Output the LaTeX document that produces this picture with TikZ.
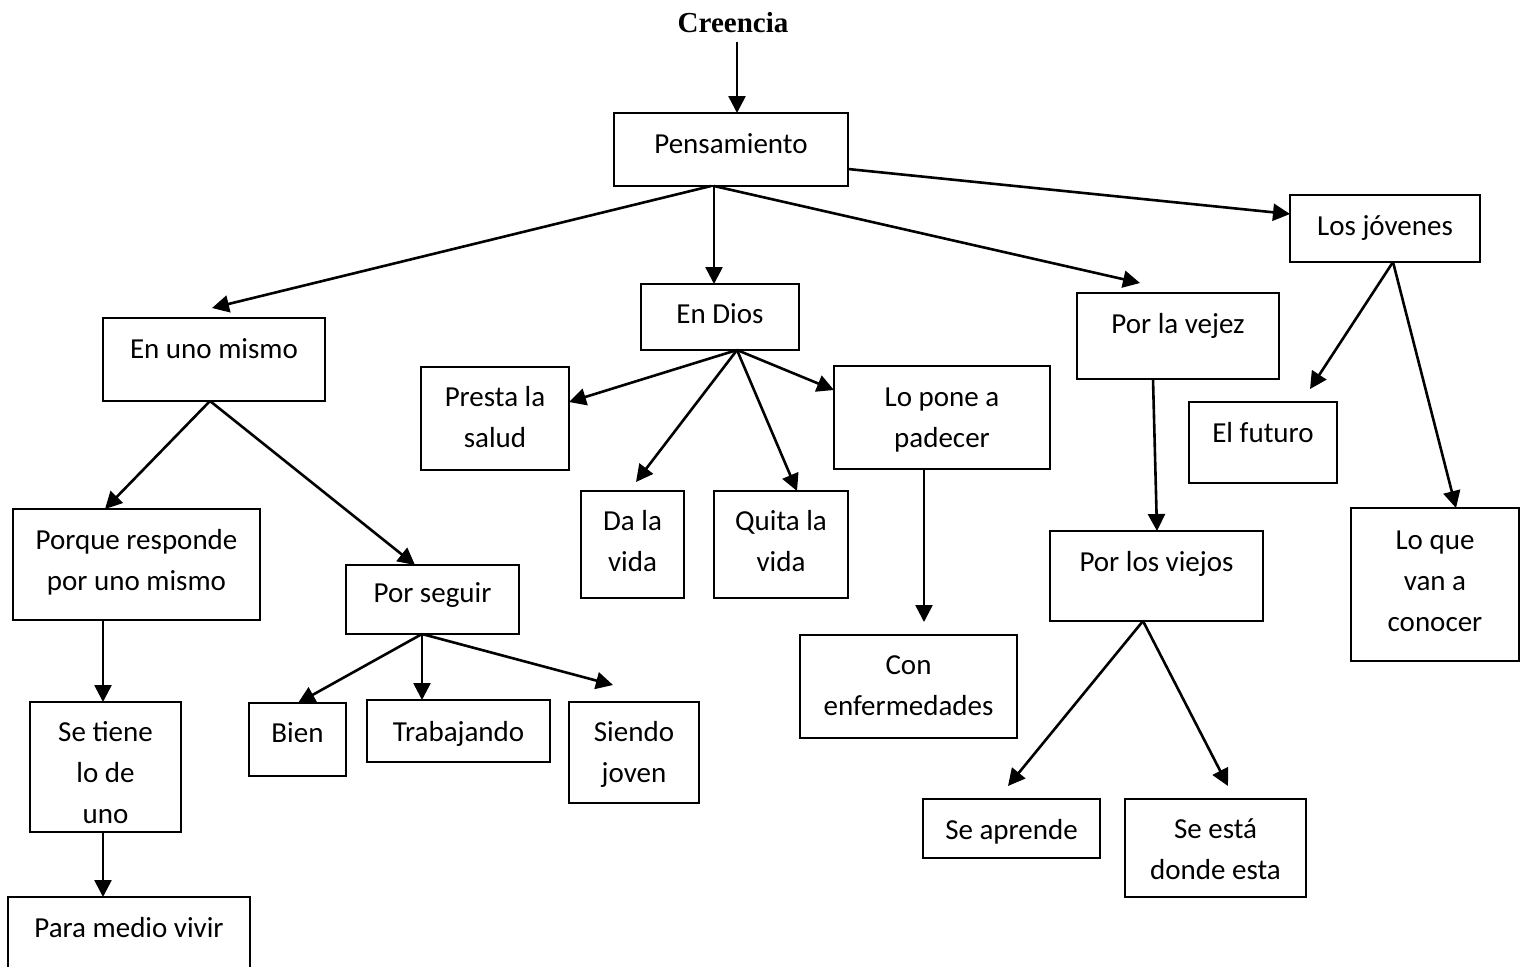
\documentclass[tikz,border=0pt]{standalone}
\usepackage{fontspec}
\setmainfont{Carlito}
\newfontfamily\titlefont{Liberation Serif}
\usetikzlibrary{arrows.meta,fit}
\tikzset{
  box/.style={draw, line width=1.15pt, inner sep=0pt, outer sep=0pt},
  txt/.style={font=\fontsize{14.5}{20.5}\selectfont, align=center, inner sep=0pt,
    execute at begin node={\strut}, execute at end node={\strut}},
  ttl/.style={font=\titlefont\bfseries\fontsize{14.5}{17}\selectfont, inner sep=0pt, inner ysep=4pt},
  arr/.style={line width=1.3pt, -{Triangle[length=8.5pt,width=8.5pt]}},
}
\begin{document}
\begin{tikzpicture}[x=0.5pt,y=-0.5pt]
\fill[white] (0,0) rectangle (1531,966);
\useasboundingbox (0,0) rectangle (1531,966);

% title
\node[ttl] (cre) at (733,23) {Creencia};

% boxes
\node[box, fit={(614,113) (848,186)}] (pens) {};
\node[txt] (tpens) at (731,145) {Pensamiento};
\node[box, fit={(1290,195) (1480,262)}] (jov) {};
\node[txt] (tjov) at (1385,227) {Los jóvenes};
\node[box, fit={(103,318) (325,401)}] (uno) {};
\node[txt] (tuno) at (214,350) {En uno mismo};
\node[box, fit={(641,284) (799,350)}] (dios) {};
\node[txt] (tdios) at (720,315) {En Dios};
\node[box, fit={(1077,293) (1279,379)}] (vej) {};
\node[txt] (tvej) at (1178,325) {Por la vejez};
\node[box, fit={(421,367) (569,470)}] (pres) {};
\node[txt] (tpres) at (495,423.5) {Presta la\\salud};
\node[box, fit={(834,366) (1050,469)}] (lopo) {};
\node[txt] (tlopo) at (942,423.5) {Lo pone a\\padecer};
\node[box, fit={(1189,402) (1337,483)}] (fut) {};
\node[txt] (tfut) at (1263,434) {El futuro};
\node[box, fit={(13,509) (260,620)}] (porq) {};
\node[txt] (tporq) at (136.5,566.5) {Porque responde\\por uno mismo};
\node[box, fit={(581,491) (684,598)}] (da) {};
\node[txt] (tda) at (632.5,547.5) {Da la\\vida};
\node[box, fit={(714,491) (848,598)}] (qui) {};
\node[txt] (tqui) at (781,547.5) {Quita la\\vida};
\node[box, fit={(1351,508) (1519,661)}] (loq) {};
\node[txt] (tloq) at (1435,587) {Lo que\\van a\\conocer};
\node[box, fit={(1050,531) (1263,621)}] (vie) {};
\node[txt] (tvie) at (1156.5,563) {Por los viejos};
\node[box, fit={(346,565) (519,634)}] (seg) {};
\node[txt] (tseg) at (432.5,594) {Por seguir};
\node[box, fit={(800,635) (1017,738)}] (con) {};
\node[txt] (tcon) at (908.5,691.5) {Con\\enfermedades};
\node[box, fit={(30,702) (181,832)}] (setn) {};
\node[txt] (tsetn) at (105.5,779) {Se tiene\\lo de\\uno};
\node[box, fit={(249,703) (346,776)}] (bien) {};
\node[txt] (tbien) at (297.5,734) {Bien};
\node[box, fit={(367,700) (550,762)}] (trab) {};
\node[txt] (ttrab) at (458.5,733) {Trabajando};
\node[box, fit={(569,702) (699,803)}] (sien) {};
\node[txt] (tsien) at (634,758.5) {Siendo\\joven};
\node[box, fit={(923,799) (1100,858)}] (apr) {};
\node[txt] (tapr) at (1011.5,831) {Se aprende};
\node[box, fit={(1125,799) (1306,897)}] (est) {};
\node[txt] (test) at (1215.5,855.5) {Se está\\donde esta};
\node[box, fit={(8,897) (250,990)}] (para) {};
\node[txt] (tpara) at (129,929) {Para medio vivir};

% free arrow ends
\coordinate (unoT) at (212,308);
\coordinate (vejT) at (1140,283);
\coordinate (daT) at (636,482);
\coordinate (conT) at (924,622);
\coordinate (futT) at (1310,389);
\coordinate (sienT) at (613,685);
\coordinate (aprT) at (1008,786);
\coordinate (estT) at (1228,786);

% connectors
\draw[arr] (cre.south -| 737,0) -- (pens.north -| 737,0);
\draw[arr] (pens.south -| 711,0) -- (unoT);
\draw[arr] (pens.south -| 714,0) -- (dios.north -| 714,0);
\draw[arr] (pens.south -| 714,0) -- (vejT);
\draw[arr] (pens.east |- 0,169) -- (jov.west |- 0,214);
\draw[arr] (uno.south -| 210,0) -- (porq.north -| 105,0);
\draw[arr] (uno.south -| 210,0) -- (seg.north -| 415,0);
\draw[arr] (dios.south -| 737,0) -- (pres.east |- 0,402);
\draw[arr] (dios.south -| 737,0) -- (daT);
\draw[arr] (dios.south -| 737,0) -- (qui.north -| 797,0);
\draw[arr] (dios.south -| 737,0) -- (lopo.west |- 0,390);
\draw[arr] (lopo.south -| 924,0) -- (conT);
\draw[arr] (vej.south -| 1153,0) -- (vie.north -| 1157,0);
\draw[arr] (jov.south -| 1393,0) -- (futT);
\draw[arr] (jov.south -| 1393,0) -- (loq.north -| 1456,0);
\draw[arr] (porq.south -| 103,0) -- (setn.north -| 103,0);
\draw[arr] (setn.south -| 103,0) -- (para.north -| 103,0);
\draw[arr] (seg.south -| 422,0) -- (bien.north -| 298,0);
\draw[arr] (seg.south -| 422,0) -- (trab.north -| 422,0);
\draw[arr] (seg.south -| 422,0) -- (sienT);
\draw[arr] (vie.south -| 1143,0) -- (aprT);
\draw[arr] (vie.south -| 1143,0) -- (estT);
\end{tikzpicture}
\end{document}
